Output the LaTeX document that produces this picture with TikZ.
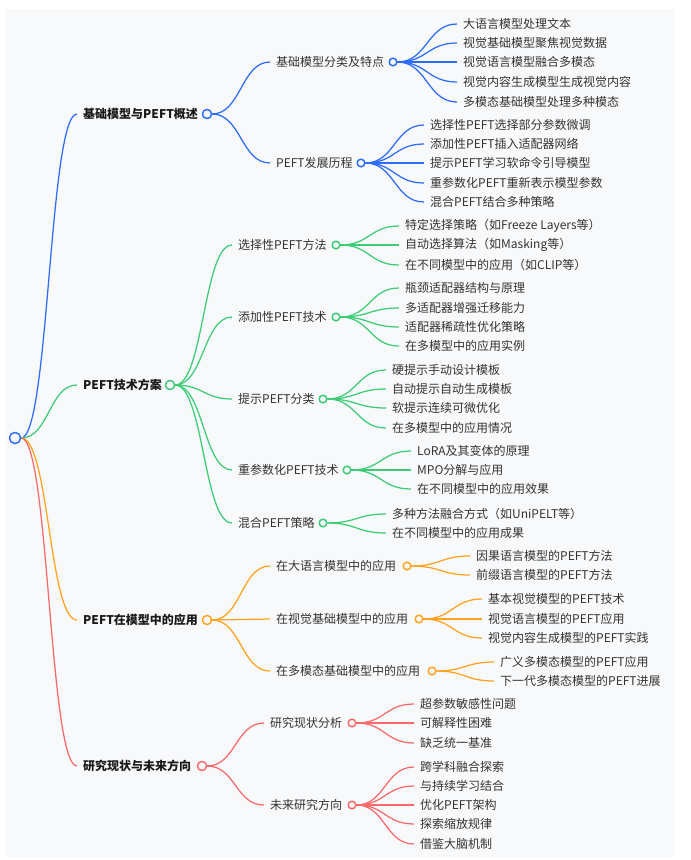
\documentclass[tikz,border=0pt]{standalone}
\usepackage{fontspec}
\setmainfont{Noto Sans CJK SC}
\usetikzlibrary{calc}
\definecolor{bgc}{HTML}{F8F9FB}
\definecolor{cb}{HTML}{2C6CF6}
\definecolor{cg}{HTML}{3DCB76}
\definecolor{co}{HTML}{FFA21F}
\definecolor{cr}{HTML}{F86A6A}
\definecolor{tx}{HTML}{333333}
\tikzset{
  lt/.style={anchor=west, inner xsep=6pt, inner ysep=0pt, font=\fontsize{12}{14}\selectfont, text=tx},
  l1/.style={anchor=west, inner xsep=6pt, inner ysep=0pt, font=\fontsize{12}{14}\selectfont\bfseries, text=black!90},
  dot/.style={circle, draw=#1, fill=bgc, line width=1.3pt, minimum size=7.5pt, inner sep=0pt},
  bigdot/.style={circle, draw=#1, fill=bgc, line width=1.3pt, minimum size=9pt, inner sep=0pt},
  edge/.style={draw=#1, line width=1.25pt},
}
\newcommand\mmlink[3]{\draw[edge=#3] let \p1=(#1), \p2=(#2) in (\p1) .. controls ({(\x1+\x2)/2},\y1) and ({(\x1+\x2)/2},\y2) .. (\p2);}
\begin{document}
\begin{tikzpicture}[x=1pt,y=-1pt]
\useasboundingbox (0,0) rectangle (691,860);
\fill[white] (0,0) rectangle (691,860);
\fill[bgc] (5,9) rectangle (675,857);

% ---------- level 1 ----------
\node[l1] (A) at (77,114) {基础模型与PEFT概述};
\node[l1] (B) at (77,385) {PEFT技术方案};
\node[l1] (C) at (77,620) {PEFT在模型中的应用};
\node[l1] (D) at (77,766) {研究现状与未来方向};

% ---------- level 2 ----------
\node[lt] (A1) at (270,62) {基础模型分类及特点};
\node[lt] (A2) at (270,163) {PEFT发展历程};
\node[lt] (B1) at (232,245) {选择性PEFT方法};
\node[lt] (B2) at (232,317) {添加性PEFT技术};
\node[lt] (B3) at (232,399) {提示PEFT分类};
\node[lt] (B4) at (232,470) {重参数化PEFT技术};
\node[lt] (B5) at (232,523) {混合PEFT策略};
\node[lt] (C1) at (270,566) {在大语言模型中的应用};
\node[lt] (C2) at (270,619) {在视觉基础模型中的应用};
\node[lt] (C3) at (270,671) {在多模态基础模型中的应用};
\node[lt] (D1) at (264,723) {研究现状分析};
\node[lt] (D2) at (264,805) {未来研究方向};

% ---------- leaves ----------
\node[lt] (A11) at (457,24) {大语言模型处理文本};
\node[lt] (A12) at (457,43) {视觉基础模型聚焦视觉数据};
\node[lt] (A13) at (457,62) {视觉语言模型融合多模态};
\node[lt] (A14) at (457,82) {视觉内容生成模型生成视觉内容};
\node[lt] (A15) at (457,102) {多模态基础模型处理多种模态};
\node[lt] (A21) at (424,125) {选择性PEFT选择部分参数微调};
\node[lt] (A22) at (424,144) {添加性PEFT插入适配器网络};
\node[lt] (A23) at (424,163) {提示PEFT学习软命令引导模型};
\node[lt] (A24) at (424,183) {重参数化PEFT重新表示模型参数};
\node[lt] (A25) at (424,202) {混合PEFT结合多种策略};

\node[lt] (B11) at (399,226) {特定选择策略（如Freeze Layers等）};
\node[lt] (B12) at (399,245) {自动选择算法（如Masking等）};
\node[lt] (B13) at (399,265) {在不同模型中的应用（如CLIP等）};
\node[lt] (B21) at (399,288) {瓶颈适配器结构与原理};
\node[lt] (B22) at (399,308) {多适配器增强迁移能力};
\node[lt] (B23) at (399,327) {适配器稀疏性优化策略};
\node[lt] (B24) at (399,346) {在多模型中的应用实例};
\node[lt] (B31) at (386,370) {硬提示手动设计模板};
\node[lt] (B32) at (386,389) {自动提示自动生成模板};
\node[lt] (B33) at (386,408) {软提示连续可微优化};
\node[lt] (B34) at (386,428) {在多模型中的应用情况};
\node[lt] (B41) at (411,451) {LoRA及其变体的原理};
\node[lt] (B42) at (411,470) {MPO分解与应用};
\node[lt] (B43) at (411,489) {在不同模型中的应用效果};
\node[lt] (B51) at (386,514) {多种方法融合方式（如UniPELT等）};
\node[lt] (B52) at (386,533) {在不同模型中的应用成果};

\node[lt] (C11) at (470,556) {因果语言模型的PEFT方法};
\node[lt] (C12) at (470,575) {前缀语言模型的PEFT方法};
\node[lt] (C21) at (482,599) {基本视觉模型的PEFT技术};
\node[lt] (C22) at (482,619) {视觉语言模型的PEFT应用};
\node[lt] (C23) at (482,638) {视觉内容生成模型的PEFT实践};
\node[lt] (C31) at (494,662) {广义多模态模型的PEFT应用};
\node[lt] (C32) at (494,681) {下一代多模态模型的PEFT进展};

\node[lt] (D11) at (414,704) {超参数敏感性问题};
\node[lt] (D12) at (414,723) {可解释性困难};
\node[lt] (D13) at (414,743) {缺乏统一基准};
\node[lt] (D21) at (414,767) {跨学科融合探索};
\node[lt] (D22) at (414,786) {与持续学习结合};
\node[lt] (D23) at (414,805) {优化PEFT架构};
\node[lt] (D24) at (414,824) {探索缩放规律};
\node[lt] (D25) at (414,844) {借鉴大脑机制};

% ---------- dots ----------
\node[bigdot=cb, minimum size=11pt] (R) at (15,438) {};
\node[bigdot=cb] (Ad) at (207,114) {};
\node[bigdot=cg] (Bd) at (170,385) {};
\node[bigdot=co] (Cd) at (207,620) {};
\node[bigdot=cr] (Dd) at (202,766) {};
\node[dot=cb] (A1d) at (393,62) {};
\node[dot=cb] (A2d) at (361,163) {};
\node[dot=cg] (B1d) at (336,245) {};
\node[dot=cg] (B2d) at (336,317) {};
\node[dot=cg] (B3d) at (323,399) {};
\node[dot=cg] (B4d) at (347,470) {};
\node[dot=cg] (B5d) at (323,523) {};
\node[dot=co] (C1d) at (407,566) {};
\node[dot=co] (C2d) at (419,619) {};
\node[dot=co] (C3d) at (432,671) {};
\node[dot=cr] (D1d) at (352,723) {};
\node[dot=cr] (D2d) at (352,805) {};

% ---------- connectors ----------
\mmlink{R.east}{A.west}{cb}
\mmlink{R.east}{B.west}{cg}
\mmlink{R.east}{C.west}{co}
\mmlink{R.east}{D.west}{cr}

\mmlink{Ad.east}{A1.west}{cb}
\mmlink{Ad.east}{A2.west}{cb}
\foreach \k in {A11,A12,A13,A14,A15}{\mmlink{A1d.east}{\k.west}{cb}}
\foreach \k in {A21,A22,A23,A24,A25}{\mmlink{A2d.east}{\k.west}{cb}}

\foreach \k in {B1,B2,B3,B4,B5}{\mmlink{Bd.east}{\k.west}{cg}}
\foreach \k in {B11,B12,B13}{\mmlink{B1d.east}{\k.west}{cg}}
\foreach \k in {B21,B22,B23,B24}{\mmlink{B2d.east}{\k.west}{cg}}
\foreach \k in {B31,B32,B33,B34}{\mmlink{B3d.east}{\k.west}{cg}}
\foreach \k in {B41,B42,B43}{\mmlink{B4d.east}{\k.west}{cg}}
\foreach \k in {B51,B52}{\mmlink{B5d.east}{\k.west}{cg}}

\foreach \k in {C1,C2,C3}{\mmlink{Cd.east}{\k.west}{co}}
\foreach \k in {C11,C12}{\mmlink{C1d.east}{\k.west}{co}}
\foreach \k in {C21,C22,C23}{\mmlink{C2d.east}{\k.west}{co}}
\foreach \k in {C31,C32}{\mmlink{C3d.east}{\k.west}{co}}

\foreach \k in {D1,D2}{\mmlink{Dd.east}{\k.west}{cr}}
\foreach \k in {D11,D12,D13}{\mmlink{D1d.east}{\k.west}{cr}}
\foreach \k in {D21,D22,D23,D24,D25}{\mmlink{D2d.east}{\k.west}{cr}}

% redraw dots on top
\node[bigdot=cb, minimum size=11pt] at (R) {};
\foreach \d/\c in {Ad/cb,Bd/cg,Cd/co,Dd/cr}{\node[bigdot=\c] at (\d) {};}
\foreach \d/\c in {A1d/cb,A2d/cb,B1d/cg,B2d/cg,B3d/cg,B4d/cg,B5d/cg,C1d/co,C2d/co,C3d/co,D1d/cr,D2d/cr}{\node[dot=\c] at (\d) {};}
\end{tikzpicture}
\end{document}
